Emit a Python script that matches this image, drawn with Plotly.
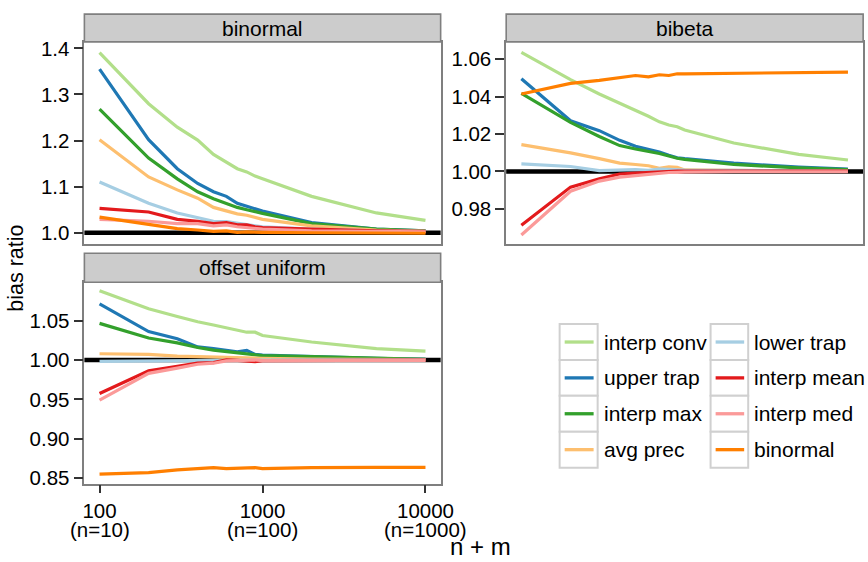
import math
import plotly.graph_objects as go

# The page is shown slightly compressed horizontally
# (screen_x ~= 10 + 0.975 * figure_x), so the figure is made a bit wider
# and all horizontal positions are placed through sx() below.
W, H = 891, 562
SX_OFF, SX_SCALE = 10.0, 0.975

# ---------------- data ----------------
x_vals = [100, 200, 300, 400, 500, 600, 700, 800, 900, 1000, 2000, 5000, 10000]

series_names = ["interp conv", "upper trap", "interp max", "avg prec",
                "lower trap", "interp mean", "interp med", "binormal"]
series_colors = ["#B2DF8A", "#1F78B4", "#33A02C", "#FDBF6F",
                 "#A6CEE3", "#E31A1C", "#FB9A99", "#FF7F00"]
panel_titles = ["binormal", "bibeta", "offset uniform"]

# binormal panel
interp_conv_bn = [1.391, 1.280, 1.229, 1.201, 1.170, 1.153, 1.139, 1.132, 1.123, 1.117, 1.079, 1.043, 1.027]
upper_trap_bn = [1.355, 1.202, 1.139, 1.107, 1.089, 1.079, 1.064, 1.057, 1.051, 1.047, 1.022, 1.008, 1.004]
interp_max_bn = [1.268, 1.162, 1.117, 1.089, 1.074, 1.064, 1.055, 1.050, 1.045, 1.042, 1.020, 1.008, 1.004]
avg_prec_bn = [1.202, 1.121, 1.093, 1.075, 1.055, 1.047, 1.041, 1.038, 1.034, 1.029, 1.015, 1.006, 1.003]
lower_trap_bn = [1.110, 1.064, 1.043, 1.033, 1.025, 1.024, 1.020, 1.018, 1.015, 1.013, 1.008, 1.004, 1.003]
interp_mean_bn = [1.053, 1.045, 1.029, 1.025, 1.020, 1.022, 1.017, 1.017, 1.013, 1.011, 1.008, 1.004, 1.003]
interp_med_bn = [1.029, 1.025, 1.020, 1.020, 1.015, 1.017, 1.013, 1.011, 1.010, 1.008, 1.004, 1.003, 1.002]
binormal_bn = [1.034, 1.018, 1.009, 1.006, 1.003, 1.004, 1.001, 1.002, 1.001, 1.001, 1.000, 0.999, 0.999]

# bibeta panel
interp_conv_bb = [1.0637, 1.0491, 1.0414, 1.0365, 1.0326, 1.0295, 1.0265, 1.0248, 1.0239, 1.0221, 1.0152, 1.0091, 1.0061]
upper_trap_bb = [1.0496, 1.0271, 1.0218, 1.0166, 1.0134, 1.0117, 1.0103, 1.0086, 1.0073, 1.0068, 1.0044, 1.0023, 1.0012]
interp_max_bb = [1.0417, 1.0262, 1.0187, 1.0138, 1.0120, 1.0108, 1.0096, 1.0082, 1.0070, 1.0064, 1.0037, 1.0019, 1.0010]
avg_prec_bb = [1.0143, 1.0099, 1.0068, 1.0044, 1.0037, 1.0030, 1.0017, 1.0024, 1.0022, 1.0008, 1.0005, 1.0003, 1.0001]
lower_trap_bb = [1.0040, 1.0026, 1.0004, 1.0009, 1.0009, 1.0005, 1.0012, 1.0011, 1.0007, 1.0007, 1.0005, 1.0003, 1.0001]
interp_mean_bb = [0.9712, 0.9916, 0.9960, 0.9986, 0.9991, 0.9995, 0.9997, 1.0000, 1.0001, 1.0001, 1.0002, 1.0002, 1.0001]
interp_med_bb = [0.9660, 0.9894, 0.9948, 0.9969, 0.9977, 0.9985, 0.9991, 0.9994, 0.9995, 0.9996, 0.9998, 0.9998, 0.9998]
binormal_bb = [1.0414, 1.0471, 1.0487, 1.0501, 1.0513, 1.0506, 1.0517, 1.0513, 1.0522, 1.0522, 1.0524, 1.0529, 1.0531]

# offset uniform panel
interp_conv_ou = [1.0877, 1.0650, 1.0551, 1.0484, 1.0443, 1.0406, 1.0372, 1.0352, 1.0352, 1.0310, 1.0228, 1.0145, 1.0112]
upper_trap_ou = [1.0712, 1.0360, 1.0269, 1.0166, 1.0145, 1.0124, 1.0104, 1.0120, 1.0071, 1.0062, 1.0042, 1.0021, 1.0009]
interp_max_ou = [1.0464, 1.0278, 1.0216, 1.0158, 1.0124, 1.0104, 1.0083, 1.0071, 1.0062, 1.0054, 1.0042, 1.0021, 1.0009]
avg_prec_ou = [1.0079, 1.0071, 1.0050, 1.0042, 1.0037, 1.0033, 1.0029, 1.0025, 1.0021, 1.0021, 1.0012, 1.0008, 1.0004]
lower_trap_ou = [0.9983, 0.9988, 0.9992, 0.9996, 0.9998, 1.0000, 1.0001, 1.0001, 1.0002, 1.0002, 1.0002, 1.0002, 1.0002]
interp_mean_ou = [0.9574, 0.9864, 0.9918, 0.9959, 0.9967, 1.0000, 0.9996, 0.9988, 0.9980, 0.9992, 0.9996, 0.9998, 0.9998]
interp_med_ou = [0.9491, 0.9831, 0.9897, 0.9946, 0.9959, 0.9988, 0.9992, 0.9996, 1.0000, 0.9992, 0.9996, 0.9996, 0.9996]
binormal_ou = [0.8553, 0.8573, 0.8607, 0.8623, 0.8635, 0.8623, 0.8627, 0.8635, 0.8635, 0.8623, 0.8635, 0.8639, 0.8639]

x_tickvals = [100, 1000, 10000]
x_ticktext = ["100", "1000", "10000"]
x_ticksub = ["(n=10)", "(n=100)", "(n=1000)"]
y_ticks_bn = [1.0, 1.1, 1.2, 1.3, 1.4]
y_ticks_bb = [0.98, 1.00, 1.02, 1.04, 1.06]
y_ticks_ou = [0.85, 0.90, 0.95, 1.00, 1.05]

panel_data = [
    [interp_conv_bn, upper_trap_bn, interp_max_bn, avg_prec_bn,
     lower_trap_bn, interp_mean_bn, interp_med_bn, binormal_bn],
    [interp_conv_bb, upper_trap_bb, interp_max_bb, avg_prec_bb,
     lower_trap_bb, interp_mean_bb, interp_med_bb, binormal_bb],
    [interp_conv_ou, upper_trap_ou, interp_max_ou, avg_prec_ou,
     lower_trap_ou, interp_mean_ou, interp_med_ou, binormal_ou],
]

# ---------------- layout geometry (target screen pixels) ----------------
def sx(x):
    return (x - SX_OFF) / (SX_SCALE * W)

def sy(y):
    return 1 - y / H

# panel boxes: (left, right, top, bottom, strip top, strip bottom)
panels_px = [
    (91.7, 445.0, 37.0, 243.3, 8.3, 36.7),
    (510.0, 864.0, 37.0, 243.3, 8.3, 36.7),
    (91.7, 445.0, 282.3, 488.0, 252.7, 282.3),
]
y_ranges = [[0.9754, 1.4134], [0.9611, 1.0691], [0.8433, 1.0985]]
y_tickvals = [y_ticks_bn, y_ticks_bb, y_ticks_ou]
y_fmt = [".1f", ".2f", ".2f"]

BORDER = "#7f7f7f"
FONT = "Liberation Sans, Arial, sans-serif"
TICKFONT = dict(size=20.5, color="#000000")

fig = go.Figure()

for p in range(3):
    suffix = "" if p == 0 else str(p + 1)
    for name, col, vals in zip(series_names, series_colors, panel_data[p]):
        fig.add_trace(go.Scatter(
            x=x_vals, y=vals, mode="lines", name=name,
            line=dict(color=col, width=3.2),
            xaxis="x" + suffix, yaxis="y" + suffix,
            showlegend=False, legendgroup=name,
        ))

layout = dict(
    width=W, height=H,
    margin=dict(l=0, r=0, t=0, b=0),
    paper_bgcolor="white", plot_bgcolor="white",
    font=dict(family=FONT, size=20, color="#000000"),
    showlegend=False,
)

shapes = []
annotations = []
for p in range(3):
    L, R, T, B, ST, SB = panels_px[p]
    suffix = "" if p == 0 else str(p + 1)
    xa = dict(
        domain=[sx(L), sx(R)], type="log", range=[1.907, 4.093],
        anchor="y" + suffix, showgrid=False, zeroline=False,
        showline=True, mirror=True, linecolor=BORDER, linewidth=1.6,
    )
    if p == 2:
        xa.update(tickvals=x_tickvals, ticktext=x_ticktext, ticks="outside",
                  ticklen=8, tickwidth=1.6, tickcolor="#333333",
                  tickfont=TICKFONT)
    else:
        xa.update(showticklabels=False, ticks="")
    ya = dict(
        domain=[sy(B), sy(T)], range=y_ranges[p], anchor="x" + suffix,
        showgrid=False, zeroline=False,
        showline=True, mirror=True, linecolor=BORDER, linewidth=1.6,
        tickvals=y_tickvals[p], tickformat=y_fmt[p], ticks="outside",
        ticklen=9, tickwidth=1.6, tickcolor="#333333",
        tickfont=TICKFONT,
    )
    layout["xaxis" + suffix] = xa
    layout["yaxis" + suffix] = ya

    # reference line at ratio 1
    shapes.append(dict(type="line", xref="x" + suffix + " domain", yref="y" + suffix,
                       x0=0, x1=1, y0=1, y1=1, layer="below",
                       line=dict(color="black", width=4.5)))
    # facet strip
    shapes.append(dict(type="rect", xref="paper", yref="paper",
                       x0=sx(L), x1=sx(R), y0=sy(SB), y1=sy(ST),
                       fillcolor="#cccccc", line=dict(color=BORDER, width=1.6)))
    annotations.append(dict(text=panel_titles[p], xref="paper", yref="paper",
                            x=sx((L + R) / 2), y=sy((ST + SB) / 2),
                            xanchor="center", yanchor="middle", showarrow=False,
                            font=dict(size=21, color="#000000")))

# second line of the x tick labels, placed on the bottom-left (log) x axis
for tv, sub in zip(x_tickvals, x_ticksub):
    annotations.append(dict(text=sub, xref="x3", yref="paper", x=math.log10(tv),
                            y=sy(535), xanchor="center", yanchor="middle",
                            height=23, valign="middle", borderpad=0,
                            showarrow=False, font=TICKFONT))

# axis titles
annotations.append(dict(text="bias ratio", xref="paper", yref="paper",
                        x=sx(10.5), y=sy(268), textangle=-90,
                        xanchor="left", yanchor="middle", showarrow=False,
                        font=dict(size=21.5, color="#000000")))
annotations.append(dict(text="n + m", xref="paper", yref="paper",
                        x=sx(485), y=sy(552), height=24, valign="middle", borderpad=0,
                        xanchor="center", yanchor="middle", showarrow=False,
                        font=dict(size=24, color="#000000")))

# manual legend (two columns of ggplot-style keys)
key_cols = [(563.0, 600.7, 605.0), (712.7, 750.0, 754.0)]
row_edges = [325.0, 361.7, 398.3, 435.0, 471.7]
for i, (name, col) in enumerate(zip(series_names, series_colors)):
    c, r = divmod(i, 4)
    kx0, kx1, tx = key_cols[c]
    ky0, ky1 = row_edges[r], row_edges[r + 1]
    shapes.append(dict(type="rect", xref="paper", yref="paper",
                       x0=sx(kx0), x1=sx(kx1), y0=sy(ky1), y1=sy(ky0),
                       fillcolor="white", line=dict(color="#d0d0d0", width=2)))
    ym = (ky0 + ky1) / 2
    shapes.append(dict(type="line", xref="paper", yref="paper",
                       x0=sx(kx0 + 5), x1=sx(kx1 - 4), y0=sy(ym), y1=sy(ym),
                       line=dict(color=col, width=3.3)))
    annotations.append(dict(text=name, xref="paper", yref="paper",
                            x=sx(tx), y=sy(ym), xanchor="left", yanchor="middle",
                            showarrow=False, font=dict(size=21, color="#000000")))

layout["shapes"] = shapes
layout["annotations"] = annotations
fig.update_layout(**layout)

fig.write_html("out.html")
